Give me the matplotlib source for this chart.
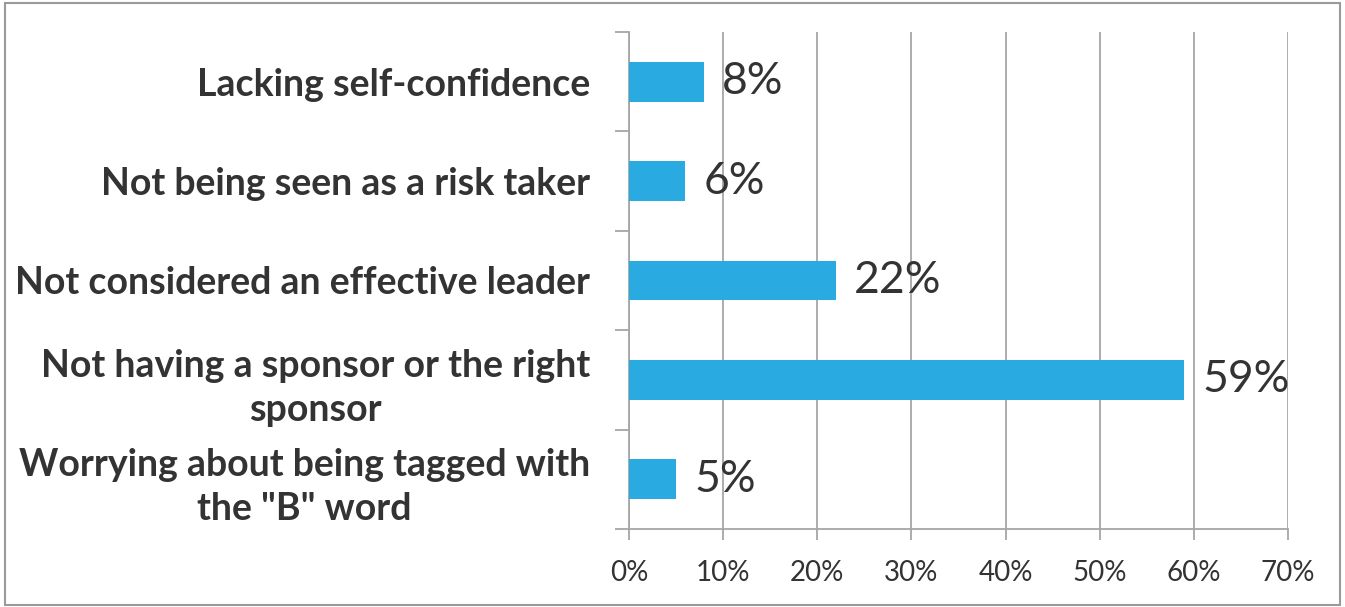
import matplotlib.pyplot as plt
from matplotlib.patches import Rectangle

# data, top to bottom as in the chart
categories = ["Lacking self-confidence",
              "Not being seen as a risk taker",
              "Not considered an effective leader",
              "Not having a sponsor or the right\nsponsor",
              "Worrying about being tagged with\nthe \"B\" word"]
values = [8, 6, 22, 59, 5]
xticks = [0, 10, 20, 30, 40, 50, 60, 70]
xticklabels = ["0%", "10%", "20%", "30%", "40%", "50%", "60%", "70%"]

plt.rcParams['font.family'] = ['Lato', 'DejaVu Sans']

grey = "#a6a6a6"
txt = "#333333"

fig = plt.figure(figsize=(13.45, 6.07), dpi=100)
ax = fig.add_axes([629/1345, 1 - 529/607, (1288 - 629)/1345, (529 - 32)/607])

ypos = list(range(len(categories)))
ax.barh(ypos, values, height=0.4, color="#29abe2", zorder=3)
ax.set_ylim(len(categories) - 0.5, -0.5)
ax.set_xlim(0, 70)

for y, v in zip(ypos, values):
    ax.annotate(f"{v}%", (v, y), xytext=(13, 0), textcoords="offset points",
                va="center", ha="left", fontsize=32, color=txt)

ax.set_xticks(xticks)
ax.set_xticklabels(xticklabels, fontsize=20, color=txt)
ax.set_yticks([i - 0.5 for i in range(len(categories) + 1)], minor=False)
ax.set_yticklabels([])
ax.set_yticks(ypos, minor=True)
ax.set_yticklabels(categories, minor=True, fontsize=27, fontweight="bold",
                   color=txt, multialignment="center", linespacing=1.35)
ax.tick_params(axis="y", which="minor", length=0, pad=28)
ax.tick_params(axis="y", which="major", length=10, color=grey, width=1.3)
ax.tick_params(axis="x", length=8, color=grey, width=1.3, pad=14)

ax.grid(axis="x", color=grey, linewidth=1.3, zorder=0)
for s in ["top", "right"]:
    ax.spines[s].set_visible(False)
for s in ["left", "bottom"]:
    ax.spines[s].set_color(grey)
    ax.spines[s].set_linewidth(1.3)

# outer border
fig.patches.append(Rectangle((5/1345, 2/607), 1335/1345, 602/607,
                             transform=fig.transFigure, fill=False,
                             edgecolor="#9a9a9a", linewidth=1.5))

fig.savefig("out.png", dpi=100)
